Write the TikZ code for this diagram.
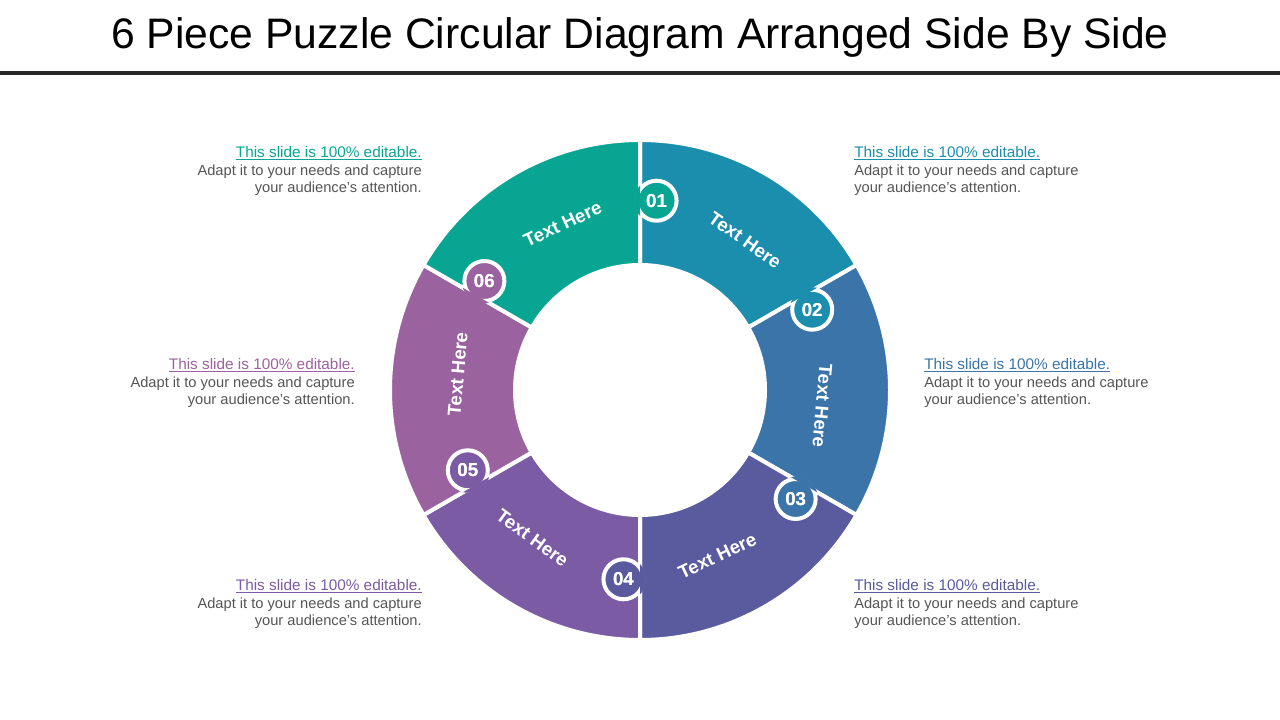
\documentclass[tikz,border=0pt]{standalone}
\usepackage{fontspec}
\setmainfont{Liberation Sans}
\usetikzlibrary{calc,positioning}
\definecolor{segA}{HTML}{1B8EAD}
\definecolor{segB}{HTML}{3A74A9}
\definecolor{segC}{HTML}{5A5A9E}
\definecolor{segD}{HTML}{7B5BA4}
\definecolor{segE}{HTML}{9A629E}
\definecolor{segF}{HTML}{07A592}
\definecolor{bodygray}{HTML}{555555}
\begin{document}
\begin{tikzpicture}[x=0.75pt,y=0.75pt]
        \tikzset{
                piece/.style  = {draw=white, line width=3pt},
                tab/.style    = {circle, minimum size=30pt, inner sep=0pt, draw=white, line width=3pt,
                                text=white, font=\bfseries\fontsize{14}{14}\selectfont},
                label/.style  = {text=white, font=\bfseries\fontsize{14}{14}\selectfont},
                head/.style   = {font=\fontsize{11.5}{13}\selectfont, inner sep=0pt},
                body/.style   = {font=\fontsize{11}{13.2}\selectfont, text=bodygray, inner sep=0pt}
        }
        \useasboundingbox (0,0) rectangle (1280,720);
        % title and rule
        \node (title) at (640,683) {\fontsize{32}{32}\selectfont 6 Piece Puzzle Circular Diagram Arranged Side By Side};
        \fill[black!85] (0,645) rectangle (1280,649);

        \coordinate (c) at (640,330);
        % ring pieces, clockwise from the top
        \foreach \i/\col in {1/segA,2/segB,3/segC,4/segD,5/segE,6/segF}
        \filldraw[piece, fill=\col] ($(c)+({150-60*\i}:250)$) arc[start angle=150-60*\i, end angle=90-60*\i, radius=250]
                -- ($(c)+({90-60*\i}:125)$) arc[start angle=90-60*\i, end angle=150-60*\i, radius=125] -- cycle;

        % tabs, each one taken from the piece before it
        \foreach \n/\col in {1/segF,2/segA,3/segB,4/segC,5/segD,6/segE} {
                \node[tab, fill=\col] (t\n) at ($(c)+({85-60*(\n-1)}:190)$) {0\n};
                \begin{scope}
                        \clip (c) -- ($(c)+({90-60*(\n-1)}:300)$) arc[start angle=90-60*(\n-1), end angle=150-60*(\n-1), radius=300] -- cycle;
                        \fill[\col] (t\n) circle[radius=22.5];
                \end{scope}
                \node[text=white, font=\bfseries\fontsize{14}{14}\selectfont] at (t\n) {0\n};
        }

        % piece labels
        \node[label, rotate=-35] (l1) at ($(c)+(55:183)$) {Text Here};
        \node[label, rotate=-95] (l2) at ($(c)+(-5:183)$) {Text Here};
        \node[label, rotate=25]  (l3) at ($(c)+(-65:183)$) {Text Here};
        \node[label, rotate=-36] (l4) at ($(c)+(-126:183)$) {Text Here};
        \node[label, rotate=85]  (l5) at ($(c)+(175:183)$) {Text Here};
        \node[label, rotate=25]  (l6) at ($(c)+(115:183)$) {Text Here};

        % side texts
        \node[head, text=segA, anchor=north west] (h1) at (854,574) {\underline{This slide is 100\% editable.}};
        \node[body, align=left, below=3pt of h1.south west, anchor=north west] {Adapt it to your needs and capture\\your audience's attention.};
        \node[head, text=segB, anchor=north west] (h2) at (924,362) {\underline{This slide is 100\% editable.}};
        \node[body, align=left, below=3pt of h2.south west, anchor=north west] {Adapt it to your needs and capture\\your audience's attention.};
        \node[head, text=segC, anchor=north west] (h3) at (854,141) {\underline{This slide is 100\% editable.}};
        \node[body, align=left, below=3pt of h3.south west, anchor=north west] {Adapt it to your needs and capture\\your audience's attention.};
        \node[head, text=segD, anchor=north east] (h4) at (422,141) {\underline{This slide is 100\% editable.}};
        \node[body, align=right, below=3pt of h4.south east, anchor=north east] {Adapt it to your needs and capture\\your audience's attention.};
        \node[head, text=segE, anchor=north east] (h5) at (355,362) {\underline{This slide is 100\% editable.}};
        \node[body, align=right, below=3pt of h5.south east, anchor=north east] {Adapt it to your needs and capture\\your audience's attention.};
        \node[head, text=segF, anchor=north east] (h6) at (422,574) {\underline{This slide is 100\% editable.}};
        \node[body, align=right, below=3pt of h6.south east, anchor=north east] {Adapt it to your needs and capture\\your audience's attention.};
\end{tikzpicture}
\end{document}
